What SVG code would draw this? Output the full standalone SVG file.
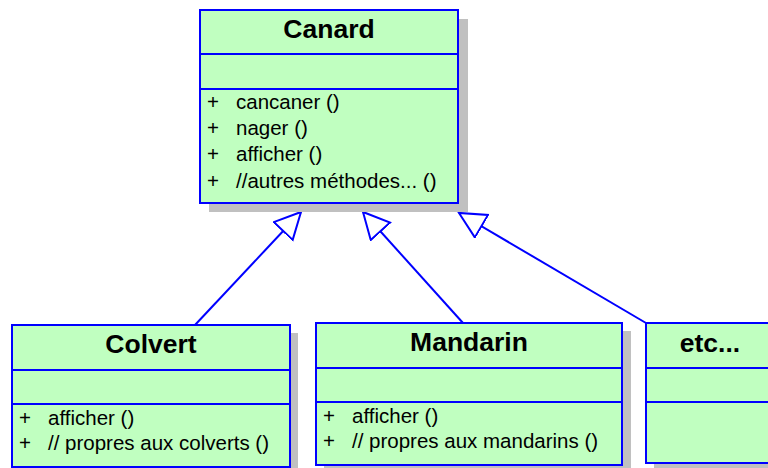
<svg xmlns="http://www.w3.org/2000/svg" width="768" height="468" viewBox="0 0 768 468">
<style>
.shadow{fill:#c0c0c0}
.box{fill:#c0ffc0;stroke:#0000ff;stroke-width:2}
.div{stroke:#0000ff;stroke-width:2}
.title{font-family:"Liberation Sans",Arial,sans-serif;font-weight:bold;font-size:26.5px;text-anchor:middle;fill:#000}
.m{font-family:"Liberation Sans",Arial,sans-serif;font-size:20.5px;fill:#000}
.conn{stroke:#0000ff;stroke-width:2;fill:none}
</style>
<defs>
<marker id="tri" markerUnits="userSpaceOnUse" markerWidth="30" markerHeight="30" refX="27" refY="14" orient="auto" viewBox="0 0 30 30">
<path d="M1,1 L27,14 L1,27 Z" fill="#fff" stroke="#0000ff" stroke-width="2"/>
</marker>
</defs>
<rect width="768" height="468" fill="#fff"/>
<g id="connectors">
<line class="conn" x1="195" y1="325" x2="301" y2="212" marker-end="url(#tri)"/>
<line class="conn" x1="463" y1="323" x2="363" y2="212" marker-end="url(#tri)"/>
<line class="conn" x1="646" y1="323" x2="459" y2="213" marker-end="url(#tri)"/>
</g>
<g id="canard">
<rect class="shadow" x="209" y="19" width="259" height="193"/>
<rect class="box" x="200" y="10" width="258" height="193"/>
<line class="div" x1="200" y1="54" x2="458" y2="54"/>
<line class="div" x1="200" y1="89" x2="458" y2="89"/>
<text class="title" x="329" y="38">Canard</text>
<text class="m" x="207" y="109">+</text><text class="m" x="236" y="109">cancaner ()</text>
<text class="m" x="207" y="135">+</text><text class="m" x="236" y="135">nager ()</text>
<text class="m" x="207" y="161">+</text><text class="m" x="236" y="161">afficher ()</text>
<text class="m" x="207" y="188">+</text><text class="m" x="236" y="188">//autres méthodes... ()</text>
</g>
<g id="colvert">
<rect class="shadow" x="20" y="333" width="278" height="142"/>
<rect class="box" x="12" y="325" width="278" height="142"/>
<line class="div" x1="12" y1="370" x2="290" y2="370"/>
<line class="div" x1="12" y1="404" x2="290" y2="404"/>
<text class="title" x="151" y="353">Colvert</text>
<text class="m" x="19" y="425">+</text><text class="m" x="48" y="425">afficher ()</text>
<text class="m" x="19" y="450">+</text><text class="m" x="48" y="450">// propres aux colverts ()</text>
</g>
<g id="mandarin">
<rect class="shadow" x="324" y="331" width="307" height="142"/>
<rect class="box" x="316" y="323" width="306" height="142"/>
<line class="div" x1="316" y1="368" x2="622" y2="368"/>
<line class="div" x1="316" y1="402" x2="622" y2="402"/>
<text class="title" x="469" y="351">Mandarin</text>
<text class="m" x="323" y="423">+</text><text class="m" x="352" y="423">afficher ()</text>
<text class="m" x="323" y="448">+</text><text class="m" x="352" y="448">// propres aux mandarins ()</text>
</g>
<g id="etc">
<rect class="shadow" x="654" y="331" width="130" height="140"/>
<rect class="box" x="646" y="323" width="130" height="140"/>
<line class="div" x1="646" y1="368" x2="776" y2="368"/>
<line class="div" x1="646" y1="402" x2="776" y2="402"/>
<text class="title" x="710" y="352">etc...</text>
</g>
</svg>
